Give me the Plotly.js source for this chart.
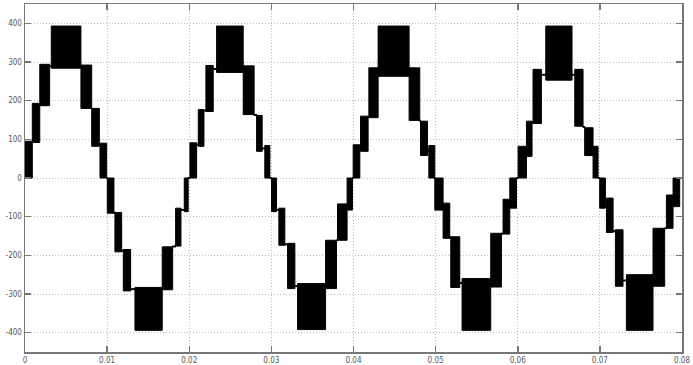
<!DOCTYPE html>
<html>
<head>
<meta charset="utf-8">
<script src="https://cdn.plot.ly/plotly-3.0.1.min.js"></script>
<style>html,body{margin:0;padding:0;background:#fff;}#chart{width:693px;height:365px;}</style>
</head>
<body>
<div id="chart"></div>
<script>
// Each band: signal switches between vLow and vHigh during [tStart, tEnd]
const tStart = [0.0000,0.00089,0.0018,0.0032,0.00681,0.00812,0.00913,
  0.01002,0.01095,0.01197,0.01339,0.01671,0.01834,0.01939,
  0.02008,0.0211,0.02203,0.02333,0.02657,0.0282,0.0292,
  0.03002,0.03091,0.03197,0.03319,0.0366,0.03805,0.03922,
  0.03996,0.04086,0.04187,0.043,0.04677,0.04816,0.04917,
  0.0499,0.05091,0.05184,0.05322,0.05671,0.05821,0.05903,
  0.06004,0.06106,0.06186,0.06341,0.06694,0.06815,0.06917,
  0.06998,0.0708,0.07189,0.07323,0.07647,0.0781,0.07891];
const tEnd = [0.00089,0.0018,0.0030,0.00681,0.00812,0.00905,0.00994,
  0.01083,0.01177,0.01286,0.01671,0.01798,0.01899,0.01987,
  0.0209,0.02179,0.02292,0.02657,0.0279,0.02888,0.02982,
  0.03063,0.03164,0.03286,0.0366,0.03793,0.03922,0.03987,
  0.04077,0.04178,0.043,0.04677,0.04807,0.04901,0.0499,
  0.05091,0.05172,0.05294,0.05671,0.05801,0.05903,0.05984,
  0.06106,0.06174,0.06288,0.06661,0.06795,0.06917,0.06978,
  0.07067,0.07161,0.07282,0.07647,0.07789,0.07891,0.07972];
const vLow = [0,92,187,284,180,82,0,
  -91,-191,-292,-394,-289,-176,-87,
  0,82,172,273,164,69,0,
  -87,-174,-286,-392,-286,-161,-83,
  0,69,156,263,149,58,0,
  -83,-156,-283,-394,-282,-145,-78,
  0,56,141,253,134,58,0,
  -78,-141,-280,-394,-280,-130,-74];
const vHigh = [95,193,294,393,292,180,90,
  0,-89,-185,-283,-178,-78,0,
  91,177,291,393,290,162,84,
  0,-78,-169,-273,-161,-67,0,
  86,160,285,393,285,147,84,
  0,-65,-152,-260,-143,-55,0,
  82,147,281,393,281,130,82,
  0,-52,-134,-250,-130,-44,0];
const tFinal = 0.08;
const xTicks = [0,0.01,0.02,0.03,0.04,0.05,0.06,0.07,0.08];
const xTickText = ['0','0.01','0.02','0.03','0.04','0.05','0.06','0.07','0.08'];
const yTicks = [-400,-300,-200,-100,0,100,200,300,400];
const yTickText = ['-400','-300','-200','-100','0','100','200','300','400'];

const rx = [], ry = [];
for (let i = 0; i < tStart.length; i++) {
  rx.push(tStart[i], tEnd[i], tEnd[i], tStart[i], tStart[i], null);
  ry.push(vLow[i], vLow[i], vHigh[i], vHigh[i], vLow[i], null);
}
const cx = [], cy = [];
for (let i = 0; i < tStart.length - 1; i++) {
  const m0 = (vLow[i] + vHigh[i]) / 2, m1 = (vLow[i+1] + vHigh[i+1]) / 2;
  const y = m1 > m0 ? (vHigh[i] + vLow[i+1]) / 2 : (vLow[i] + vHigh[i+1]) / 2;
  cx.push(tEnd[i] - 0.00005, tStart[i+1] + 0.00005, null);
  cy.push(y, y, null);
}
const last = tStart.length - 1;
cx.push(tEnd[last] - 0.00005, tFinal); cy.push(0, 0);

const data = [
  {x: rx, y: ry, type: 'scatter', mode: 'lines', fill: 'toself',
   fillcolor: '#000', line: {color: '#000', width: 1}, hoverinfo: 'skip', showlegend: false},
  {x: cx, y: cy, type: 'scatter', mode: 'lines',
   line: {color: '#000', width: 2}, hoverinfo: 'skip', showlegend: false}
];
const axisCommon = {
  showline: true, linecolor: '#777', linewidth: 1.5, mirror: 'ticks',
  ticks: 'inside', ticklen: 6, tickcolor: '#777', tickwidth: 1.5,
  showgrid: true, gridcolor: '#bbb', griddash: '1px,2px', gridwidth: 1,
  zeroline: false,
  tickfont: {family: 'Liberation Sans Narrow, DejaVu Sans Condensed, Arial, sans-serif', size: 8, color: '#555'}
};
const layout = {
  width: 693, height: 365,
  margin: {l: 25, r: 11, t: 4, b: 13},
  paper_bgcolor: '#fff', plot_bgcolor: '#fff',
  showlegend: false,
  xaxis: Object.assign({}, axisCommon, {range: [0, 0.08], tickvals: xTicks, ticktext: xTickText}),
  yaxis: Object.assign({}, axisCommon, {range: [-450, 450], tickvals: yTicks, ticktext: yTickText})
};
Plotly.newPlot('chart', data, layout, {displayModeBar: false, staticPlot: true});
</script>
</body>
</html>
